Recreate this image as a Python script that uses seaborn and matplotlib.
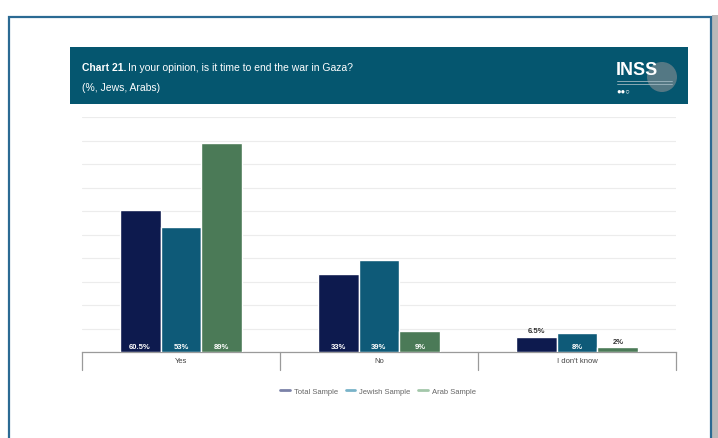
import matplotlib
matplotlib.use("Agg")
import matplotlib.pyplot as plt
from matplotlib.patches import Rectangle, Ellipse
from matplotlib.lines import Line2D
from matplotlib.transforms import blended_transform_factory
import seaborn as sns
from pandas import DataFrame

# Data
categories = ["Yes", "No", "I don't know"]
series = ["Total Sample", "Jewish Sample", "Arab Sample"]
total_vals = [60.5, 33, 6.5]
jewish_vals = [53, 39, 8]
arab_vals = [89, 9, 2]
value_labels = [
    ["60.5%", "33%", "6.5%"],
    ["53%", "39%", "8%"],
    ["89%", "9%", "2%"],
]

bar_colors = ["#0d1a4e", "#0e5a78", "#4b7a57"]
legend_colors = ["#7b82a8", "#79b3c9", "#a3c7aa"]
HEADER = "#05566f"
W, H = 718, 439

sns.set_theme(style="white")
plt.rcParams['font.family'] = ['Liberation Sans', 'DejaVu Sans']

rows = []
for s, vals in zip(series, [total_vals, jewish_vals, arab_vals]):
    for c, v in zip(categories, vals):
        rows.append({'category': c, 'sample': s, 'value': v})
df = DataFrame(rows)


def px(x0, y0, x1, y1):
    # pixel box (top-left origin) -> figure fraction rect
    return [x0 / W, 1 - y1 / H, (x1 - x0) / W, (y1 - y0) / H]


fig = plt.figure(figsize=(W / 100, H / 100), dpi=100)
fig.patch.set_facecolor("white")

# outer frame + right shadow
fig.patches.append(Rectangle((712 / W, 0), 6 / W, 1 - 16 / H, transform=fig.transFigure,
                             facecolor="#b9b9b9", edgecolor="none", zorder=0))
fig.patches.append(Rectangle((9 / W, -0.05), 702 / W, 1.05 - 18 / H, transform=fig.transFigure,
                             facecolor="white", edgecolor="#2b6a93", linewidth=1.6, zorder=1))
# header band
hx, hy, hw, hh = px(70, 48, 688, 105)
fig.patches.append(Rectangle((hx, hy), hw, hh, transform=fig.transFigure,
                             facecolor=HEADER, edgecolor="none", zorder=2))
fig.text(82 / W, 1 - 68 / H, "Chart 21.", color="white", fontsize=7.5, weight="bold",
         va="center", ha="left", zorder=3)
fig.text(128 / W, 1 - 68 / H, "In your opinion, is it time to end the war in Gaza?",
         color="white", fontsize=7.5, va="center", ha="left", zorder=3)
fig.text(82 / W, 1 - 88 / H, "(%, Jews, Arabs)", color="white", fontsize=7.5,
         va="center", ha="left", zorder=3)
# logo
fig.patches.append(Ellipse((662 / W, 1 - 78 / H), 30 / W, 30 / H, transform=fig.transFigure,
                           facecolor="#808b90", edgecolor="none", alpha=0.65, zorder=3))
fig.text(616 / W, 1 - 71 / H, "INSS", color="white", fontsize=13, weight="bold",
         va="center", ha="left", zorder=4)
for yy in [82, 85]:
    fig.lines.append(Line2D([617 / W, 672 / W], [1 - yy / H, 1 - yy / H],
                            transform=fig.transFigure, color="#9fb7c0",
                            linewidth=0.6, zorder=4))
fig.text(616 / W, 1 - 92 / H, "●●○", color="white", fontsize=5.5, va="center",
         ha="left", zorder=4)

# plot area
ax = fig.add_axes(px(82, 118, 676, 353))
ax.set_zorder(5)
ax.patch.set_alpha(0)
sns.barplot(data=df, x='category', y='value', hue='sample', order=categories,
            hue_order=series, palette=bar_colors, width=0.62, gap=0,
            saturation=1, ax=ax, legend=False, zorder=3)
ax.set_ylim(0, 100)
ax.set_xlim(-0.5, 2.5)
ax.set_yticks(range(0, 101, 10))
ax.yaxis.grid(True, color="#ececec", linewidth=0.8)
ax.set_axisbelow(True)
ax.set(xlabel="", ylabel="")
ax.set_yticklabels([])
ax.tick_params(left=False, bottom=False, labelbottom=False)
for side in ['top', 'right', 'left']:
    ax.spines[side].set_visible(False)
ax.spines['bottom'].set_color("#9a9a9a")
ax.spines['bottom'].set_linewidth(0.9)

# table-like category axis
trans = blended_transform_factory(ax.transData, ax.transAxes)
for xb in [-0.5, 0.5, 1.5, 2.5]:
    ax.add_line(Line2D([xb, xb], [0, -18 / 235], transform=trans, color="#9a9a9a",
                       linewidth=0.9, clip_on=False))
for i, c in enumerate(categories):
    ax.text(i, -9 / 235, c, transform=trans, ha="center", va="center",
            fontsize=5.5, color="#444444")

# value labels
for s_idx, container in enumerate(ax.containers):
    for c_idx, bar in enumerate(container):
        h = bar.get_height()
        xc = bar.get_x() + bar.get_width() / 2
        lab = value_labels[s_idx][c_idx]
        if h >= 7.5:
            ax.text(xc, 2.5, lab, ha="center", va="center", fontsize=5.5,
                    color="white", weight="bold", zorder=4)
        else:
            ax.text(xc, h + 1.0, lab, ha="center", va="bottom", fontsize=5.5,
                    color="#333333", weight="bold", zorder=4)

# legend
handles = [Line2D([], [], color=col, linewidth=2) for col in legend_colors]
fig.legend(handles, series, loc="center", bbox_to_anchor=(378 / W, 1 - 392 / H),
           ncol=3, frameon=False, fontsize=5.5, handlelength=1.3, handletextpad=0.5,
           columnspacing=1.0, labelcolor="#666666")

fig.savefig("out.png", dpi=100)
